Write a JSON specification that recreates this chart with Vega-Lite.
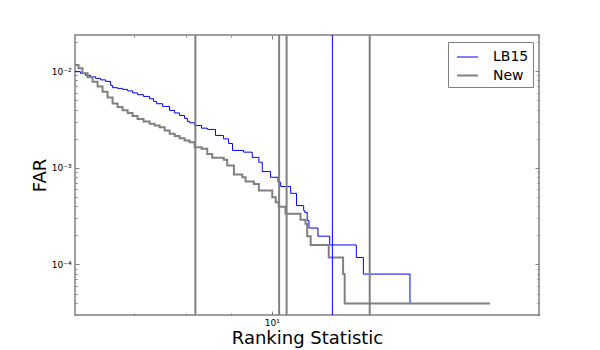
{
  "$schema": "https://vega.github.io/schema/vega-lite/v6.json",
  "width": 464,
  "height": 280,
  "autosize": {"type": "none"},
  "padding": {"left": 75, "top": 35, "right": 61, "bottom": 35},
  "background": "white",
  "config": {
    "view": {"stroke": "#808080", "strokeWidth": 1.5},
    "font": "DejaVu Sans",
    "axis": {"grid": false, "domain": false, "tickColor": "#808080", "labelColor": "black", "titleColor": "black", "titleFontWeight": "normal", "labelFont": "DejaVu Sans", "titleFont": "DejaVu Sans"}
  },
  "datasets": {
    "curves": [
      {"series": "LB15", "stat": 6.0, "far": 0.009858},
      {"series": "LB15", "stat": 6.087, "far": 0.009467},
      {"series": "LB15", "stat": 6.166, "far": 0.009025},
      {"series": "LB15", "stat": 6.247, "far": 0.00871},
      {"series": "LB15", "stat": 6.329, "far": 0.008403},
      {"series": "LB15", "stat": 6.412, "far": 0.008107},
      {"series": "LB15", "stat": 6.496, "far": 0.007822},
      {"series": "LB15", "stat": 6.581, "far": 0.00711},
      {"series": "LB15", "stat": 6.615, "far": 0.00673},
      {"series": "LB15", "stat": 6.702, "far": 0.006618},
      {"series": "LB15", "stat": 6.789, "far": 0.006462},
      {"series": "LB15", "stat": 6.878, "far": 0.006235},
      {"series": "LB15", "stat": 6.967, "far": 0.005944},
      {"series": "LB15", "stat": 7.058, "far": 0.005694},
      {"series": "LB15", "stat": 7.168, "far": 0.005467},
      {"series": "LB15", "stat": 7.281, "far": 0.005176},
      {"series": "LB15", "stat": 7.357, "far": 0.004853},
      {"series": "LB15", "stat": 7.414, "far": 0.004594},
      {"series": "LB15", "stat": 7.532, "far": 0.004307},
      {"series": "LB15", "stat": 7.67, "far": 0.003915},
      {"series": "LB15", "stat": 7.77, "far": 0.003688},
      {"series": "LB15", "stat": 7.87, "far": 0.003474},
      {"series": "LB15", "stat": 7.973, "far": 0.003235},
      {"series": "LB15", "stat": 8.035, "far": 0.003011},
      {"series": "LB15", "stat": 8.077, "far": 0.002919},
      {"series": "LB15", "stat": 8.183, "far": 0.002737},
      {"series": "LB15", "stat": 8.333, "far": 0.002566},
      {"series": "LB15", "stat": 8.463, "far": 0.00249},
      {"series": "LB15", "stat": 8.64, "far": 0.00216},
      {"series": "LB15", "stat": 8.821, "far": 0.00199},
      {"series": "LB15", "stat": 8.937, "far": 0.00178},
      {"series": "LB15", "stat": 9.03, "far": 0.00151},
      {"series": "LB15", "stat": 9.293, "far": 0.00145},
      {"series": "LB15", "stat": 9.504, "far": 0.00128},
      {"series": "LB15", "stat": 9.668, "far": 0.00114},
      {"series": "LB15", "stat": 9.754, "far": 0.000913},
      {"series": "LB15", "stat": 9.966, "far": 0.000797},
      {"series": "LB15", "stat": 10.16, "far": 0.000708},
      {"series": "LB15", "stat": 10.23, "far": 0.000639},
      {"series": "LB15", "stat": 10.5, "far": 0.000544},
      {"series": "LB15", "stat": 10.66, "far": 0.000406},
      {"series": "LB15", "stat": 10.86, "far": 0.00036},
      {"series": "LB15", "stat": 10.89, "far": 0.000346},
      {"series": "LB15", "stat": 10.96, "far": 0.000284},
      {"series": "LB15", "stat": 11.01, "far": 0.000238},
      {"series": "LB15", "stat": 11.27, "far": 0.000196},
      {"series": "LB15", "stat": 11.62, "far": 0.000159},
      {"series": "LB15", "stat": 12.45, "far": 0.000118},
      {"series": "LB15", "stat": 12.68, "far": 0.0000795},
      {"series": "LB15", "stat": 14.31, "far": 0.0000394},
      {"series": "LB15", "stat": 16.71, "far": 0.0000394},
      {"series": "New", "stat": 6.0, "far": 0.011538},
      {"series": "New", "stat": 6.055, "far": 0.010666},
      {"series": "New", "stat": 6.118, "far": 0.009467},
      {"series": "New", "stat": 6.199, "far": 0.008606},
      {"series": "New", "stat": 6.28, "far": 0.007766},
      {"series": "New", "stat": 6.362, "far": 0.006942},
      {"series": "New", "stat": 6.445, "far": 0.006117},
      {"series": "New", "stat": 6.529, "far": 0.005339},
      {"series": "New", "stat": 6.615, "far": 0.004627},
      {"series": "New", "stat": 6.702, "far": 0.004256},
      {"series": "New", "stat": 6.789, "far": 0.003943},
      {"series": "New", "stat": 6.878, "far": 0.003688},
      {"series": "New", "stat": 6.967, "far": 0.003433},
      {"series": "New", "stat": 7.058, "far": 0.003197},
      {"series": "New", "stat": 7.168, "far": 0.003011},
      {"series": "New", "stat": 7.281, "far": 0.00285},
      {"series": "New", "stat": 7.376, "far": 0.002737},
      {"series": "New", "stat": 7.473, "far": 0.002628},
      {"series": "New", "stat": 7.571, "far": 0.002429},
      {"series": "New", "stat": 7.67, "far": 0.002245},
      {"series": "New", "stat": 7.77, "far": 0.00213},
      {"series": "New", "stat": 7.87, "far": 0.002021},
      {"series": "New", "stat": 7.973, "far": 0.001913},
      {"series": "New", "stat": 8.077, "far": 0.001837},
      {"series": "New", "stat": 8.183, "far": 0.001632},
      {"series": "New", "stat": 8.333, "far": 0.00157},
      {"series": "New", "stat": 8.457, "far": 0.00139},
      {"series": "New", "stat": 8.567, "far": 0.00127},
      {"series": "New", "stat": 8.827, "far": 0.00121},
      {"series": "New", "stat": 8.906, "far": 0.001054},
      {"series": "New", "stat": 9.062, "far": 0.00085},
      {"series": "New", "stat": 9.261, "far": 0.000797},
      {"series": "New", "stat": 9.34, "far": 0.000719},
      {"series": "New", "stat": 9.544, "far": 0.000681},
      {"series": "New", "stat": 9.668, "far": 0.00058},
      {"series": "New", "stat": 10.01, "far": 0.000494},
      {"series": "New", "stat": 10.1, "far": 0.000439},
      {"series": "New", "stat": 10.18, "far": 0.000396},
      {"series": "New", "stat": 10.36, "far": 0.000335},
      {"series": "New", "stat": 10.77, "far": 0.00029},
      {"series": "New", "stat": 10.91, "far": 0.000264},
      {"series": "New", "stat": 10.96, "far": 0.000196},
      {"series": "New", "stat": 11.06, "far": 0.000159},
      {"series": "New", "stat": 11.59, "far": 0.000118},
      {"series": "New", "stat": 12.03, "far": 0.0000795},
      {"series": "New", "stat": 12.08, "far": 0.0000394},
      {"series": "New", "stat": 17.61, "far": 0.0000394}
    ],
    "vlines": [
      {"series": "New", "stat": 8.2},
      {"series": "New", "stat": 10.19},
      {"series": "New", "stat": 10.39},
      {"series": "LB15", "stat": 11.7},
      {"series": "New", "stat": 12.89}
    ]
  },
  "layer": [
    {
      "data": {"name": "curves"},
      "transform": [{"filter": "datum.series == 'LB15'"}],
      "mark": {"type": "line", "interpolate": "step-after", "clip": true, "strokeWidth": 1},
      "encoding": {
        "x": {
          "field": "stat", "type": "quantitative",
          "scale": {"type": "log", "domain": [6, 20], "nice": false, "zero": false},
          "axis": {
            "orient": "bottom",
            "values": [7, 8, 9, 10, 20],
            "labelExpr": "datum.value == 10 ? '10¹' : ''",
            "tickSize": {"condition": {"test": "datum.value == 10", "value": -4}, "value": -2},
            "labelPadding": 7,
            "labelFontSize": 9,
            "title": "Ranking Statistic",
            "titleFontSize": 18,
            "titleX": 232,
            "titleY": 23,
            "titleBaseline": "middle",
            "titleAlign": "center"
          }
        },
        "y": {
          "field": "far", "type": "quantitative",
          "scale": {"type": "log", "domain": [0.00003, 0.0236], "nice": false, "zero": false},
          "axis": {
            "orient": "left",
            "values": [0.00003, 0.00004, 0.00005, 0.00006, 0.00007, 0.00008, 0.00009, 0.0001, 0.0002, 0.0003, 0.0004, 0.0005, 0.0006, 0.0007, 0.0008, 0.0009, 0.001, 0.002, 0.003, 0.004, 0.005, 0.006, 0.007, 0.008, 0.009, 0.01, 0.02],
            "labelExpr": "datum.value == 0.01 ? '10⁻²' : datum.value == 0.001 ? '10⁻³' : datum.value == 0.0001 ? '10⁻⁴' : ''",
            "tickSize": {"condition": {"test": "datum.value == 0.01 || datum.value == 0.001 || datum.value == 0.0001", "value": -4}, "value": -2},
            "labelPadding": 8,
            "labelFontSize": 9,
            "title": "FAR",
            "titleFontSize": 18,
            "titleX": -35,
            "titleY": 140,
            "titleBaseline": "middle",
            "titleAlign": "center"
          }
        },
        "color": {
          "field": "series", "type": "nominal",
          "scale": {"domain": ["LB15", "New"], "range": ["#0000ff", "#808080"]},
          "legend": {
            "title": null,
            "orient": "none",
            "legendX": 373,
            "legendY": 7,
            "strokeColor": "#808080",
            "fillColor": "white",
            "padding": 4,
            "symbolType": "stroke",
            "symbolSize": 441,
            "symbolStrokeWidth": 1.3,
            "symbolOffset": 4,
            "labelFontSize": 14,
            "labelFont": "DejaVu Sans",
            "labelColor": "black",
            "labelOffset": 14,
            "rowPadding": 0,
            "cornerRadius": 0,
            "encode": {"symbols": {"update": {"stroke": {"scale": "color", "field": "value"}, "strokeWidth": {"value": 1.3}}}}
          }
        }
      }
    },
    {
      "data": {"name": "curves"},
      "transform": [{"filter": "datum.series == 'New'"}],
      "mark": {"type": "line", "interpolate": "step-after", "clip": true, "strokeWidth": 2},
      "encoding": {
        "x": {"field": "stat", "type": "quantitative", "scale": {"type": "log", "domain": [6, 20], "nice": false, "zero": false}, "axis": null},
        "y": {"field": "far", "type": "quantitative", "scale": {"type": "log", "domain": [0.00003, 0.0236], "nice": false, "zero": false}, "axis": null},
        "color": {
          "field": "series", "type": "nominal",
          "scale": {"domain": ["LB15", "New"], "range": ["#0000ff", "#808080"]},
          "legend": null
        }
      }
    },
    {
      "data": {"name": "vlines"},
      "mark": {"type": "rule", "clip": true},
      "encoding": {
        "x": {
          "field": "stat", "type": "quantitative",
          "scale": {"type": "log", "domain": [6, 20], "nice": false, "zero": false},
          "axis": {
            "orient": "top",
            "values": [7, 8, 9, 10, 20],
            "labels": false,
            "title": null,
            "tickSize": {"condition": {"test": "datum.value == 10", "value": -4}, "value": -2}
          }
        },
        "color": {
          "field": "series", "type": "nominal",
          "scale": {"domain": ["LB15", "New"], "range": ["#0000ff", "#808080"]},
          "legend": null
        },
        "strokeWidth": {
          "field": "series", "type": "nominal",
          "scale": {"domain": ["LB15", "New"], "range": [1, 2]},
          "legend": null
        }
      }
    },
    {
      "data": {"name": "curves"},
      "mark": {"type": "line", "opacity": 0},
      "encoding": {
        "x": {
          "field": "stat", "type": "quantitative",
          "scale": {"type": "log", "domain": [6, 20], "nice": false, "zero": false},
          "axis": null
        },
        "y": {
          "field": "far", "type": "quantitative",
          "scale": {"type": "log", "domain": [0.00003, 0.0236], "nice": false, "zero": false},
          "axis": {
            "orient": "right",
            "values": [0.00003, 0.00004, 0.00005, 0.00006, 0.00007, 0.00008, 0.00009, 0.0001, 0.0002, 0.0003, 0.0004, 0.0005, 0.0006, 0.0007, 0.0008, 0.0009, 0.001, 0.002, 0.003, 0.004, 0.005, 0.006, 0.007, 0.008, 0.009, 0.01, 0.02],
            "labels": false,
            "title": null,
            "tickSize": {"condition": {"test": "datum.value == 0.01 || datum.value == 0.001 || datum.value == 0.0001", "value": -4}, "value": -2}
          }
        },
        "detail": {"field": "series", "type": "nominal"}
      }
    }
  ],
  "resolve": {"axis": {"x": "independent", "y": "independent"}}
}
